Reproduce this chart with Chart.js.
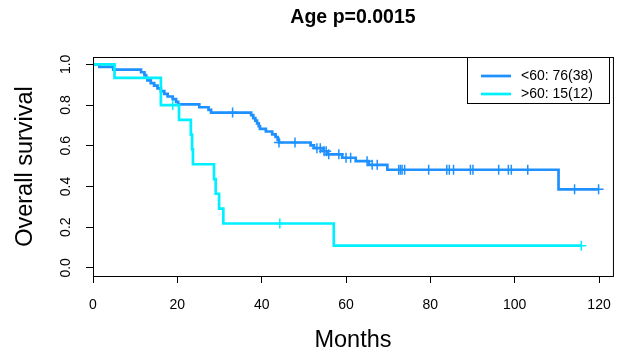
<!DOCTYPE html>
<html>
<head>
<meta charset="utf-8">
<script src="https://cdn.jsdelivr.net/npm/chart.js@4.4.1/dist/chart.umd.min.js"></script>
<style>
  html, body { margin: 0; padding: 0; background: #fff; }
</style>
</head>
<body>
<canvas id="km" width="625" height="356"></canvas>
<script>
// DATA
const xTicks = [0, 20, 40, 60, 80, 100, 120];
const yTicks = [0, 0.2, 0.4, 0.6, 0.8, 1.0];

// <60 group: step times and survival after each step
const youngTime = [0, 1.5, 4.8, 11.4, 12.2, 12.6, 12.9, 13.7, 14.5, 15.3,
                   16.1, 16.9, 17.7, 18.9, 19.7, 20.2, 25.2, 27.4, 28.0, 37.5,
                   38.0, 38.5, 38.9, 39.3, 39.6, 41.0, 42.5, 43.3, 43.8, 44.1,
                   51.6, 52.4, 54.5, 55.6, 59.1, 62.3, 65.4, 69.8, 110.4, 119.9];
const youngSurv = [1, 0.987, 0.974, 0.961, 0.947, 0.934, 0.921, 0.908, 0.895, 0.882,
                   0.868, 0.855, 0.842, 0.829, 0.816, 0.803, 0.789, 0.776, 0.763, 0.750,
                   0.736, 0.723, 0.710, 0.696, 0.683, 0.670, 0.656, 0.643, 0.629, 0.616,
                   0.602, 0.588, 0.573, 0.558, 0.541, 0.524, 0.506, 0.482, 0.386, 0.386];
const youngCensor = [33.1, 44.1, 47.9, 53.1, 53.9, 54.8, 55.3, 55.9, 58.3, 60.0,
                     61.1, 65.0, 66.2, 67.4, 72.5, 72.9, 73.3, 73.9, 79.6, 83.9,
                     84.5, 85.5, 89.5, 90.1, 96.2, 98.5, 99.2, 103.1, 114.2, 119.9];

// >60 group
const oldTime = [0, 5.1, 16.1, 20.4, 23.2, 23.5, 23.7, 28.7, 29.1, 29.9, 30.9, 57.1, 115.8];
const oldSurv = [1, 0.933, 0.8, 0.727, 0.655, 0.582, 0.509, 0.436, 0.364, 0.291, 0.218, 0.109, 0.109];
const oldCensor = [18.9, 44.3, 115.8];

const legendLabels = ['<60: 76(38)', '>60: 15(12)'];
const youngColor = '#1E90FF';
const oldColor = '#00F0FF';
const FONT = '"Liberation Sans", Arial, sans-serif';

function steps(times, surv) {
  return times.map((t, i) => ({ x: t, y: surv[i] }));
}

// survival level at a censoring time (last step at or before t)
function levelAt(times, surv, t) {
  let s = surv[0];
  for (let i = 0; i < times.length; i++) {
    if (times[i] <= t) s = surv[i];
  }
  return s;
}

function marks(times, surv, cens) {
  return cens.map(t => ({ x: t, y: levelAt(times, surv, t) }));
}

const frame = {
  id: 'frame',
  afterDraw(chart) {
    const { ctx, chartArea: a, scales: { y } } = chart;
    ctx.save();
    ctx.strokeStyle = '#000';
    ctx.lineWidth = 1;
    ctx.strokeRect(a.left + 0.5, a.top + 0.5, a.right - a.left, a.bottom - a.top);

    ctx.fillStyle = '#000';
    ctx.textAlign = 'center';
    ctx.textBaseline = 'middle';

    // y tick labels, rotated like R
    ctx.font = `14px ${FONT}`;
    yTicks.forEach(v => {
      ctx.save();
      ctx.translate(66, y.getPixelForValue(v));
      ctx.rotate(-Math.PI / 2);
      ctx.fillText(v.toFixed(1), 0, 0);
      ctx.restore();
    });

    // axis titles
    ctx.font = `23.5px ${FONT}`;
    ctx.fillText('Months', (a.left + a.right) / 2, 341);
    ctx.save();
    ctx.translate(26, (a.top + a.bottom) / 2);
    ctx.rotate(-Math.PI / 2);
    ctx.fillText('Overall survival', 0, 0);
    ctx.restore();

    // main title
    ctx.font = `bold 19.5px ${FONT}`;
    ctx.fillText('Age p=0.0015', (a.left + a.right) / 2, 18);

    // legend
    const lx = 467.5, ly = 57.5, lw = 142, lh = 46;
    ctx.fillStyle = '#fff';
    ctx.fillRect(lx, ly, lw, lh);
    ctx.strokeRect(lx, ly, lw, lh);
    const rows = [76, 94];
    [youngColor, oldColor].forEach((c, i) => {
      ctx.strokeStyle = c;
      ctx.lineWidth = 2.7;
      ctx.beginPath();
      ctx.moveTo(481, rows[i]);
      ctx.lineTo(511, rows[i]);
      ctx.stroke();
      ctx.fillStyle = '#000';
      ctx.textAlign = 'left';
      ctx.font = `14px ${FONT}`;
      ctx.fillText(legendLabels[i], 521, rows[i]);
    });
    ctx.restore();
  }
};

const ctx = document.getElementById('km').getContext('2d');
const chart = new Chart(ctx, {
  type: 'line',
  data: {
    datasets: [
      {
        data: steps(oldTime, oldSurv),
        borderColor: oldColor, borderWidth: 2.7,
        stepped: 'before', pointRadius: 0, fill: false, order: 1
      },
      {
        data: steps(youngTime, youngSurv),
        borderColor: youngColor, borderWidth: 2.7,
        stepped: 'before', pointRadius: 0, fill: false, order: 2
      },
      {
        data: marks(oldTime, oldSurv, oldCensor),
        showLine: false, pointStyle: 'cross', pointRadius: 5,
        pointBorderWidth: 1.5, borderColor: oldColor, order: 0
      },
      {
        data: marks(youngTime, youngSurv, youngCensor),
        showLine: false, pointStyle: 'cross', pointRadius: 5,
        pointBorderWidth: 1.5, borderColor: youngColor, order: 0
      }
    ]
  },
  plugins: [frame],
  options: {
    responsive: false,
    animation: false,
    layout: { padding: { top: 57, right: 11, left: 0, bottom: 0 } },
    scales: {
      x: {
        type: 'linear',
        min: 0,
        max: 123.3,
        afterBuildTicks: s => { s.ticks = xTicks.map(v => ({ value: v })); },
        afterFit: s => { s.height = 80; },
        ticks: {
          color: '#000',
          font: { family: FONT, size: 14 },
          padding: 14,
          maxRotation: 0,
          autoSkip: false
        },
        grid: { drawOnChartArea: false, tickLength: 7, color: '#000' },
        border: { color: '#000' }
      },
      y: {
        type: 'linear',
        min: -0.04,
        max: 1.036,
        afterBuildTicks: s => { s.ticks = yTicks.map(v => ({ value: v })); },
        afterFit: s => { s.width = 93; },
        ticks: { display: false },
        grid: { drawOnChartArea: false, tickLength: 7, color: '#000' },
        border: { color: '#000' }
      }
    },
    plugins: {
      legend: { display: false },
      title: { display: false },
      tooltip: { enabled: false }
    }
  }
});
</script>
</body>
</html>
